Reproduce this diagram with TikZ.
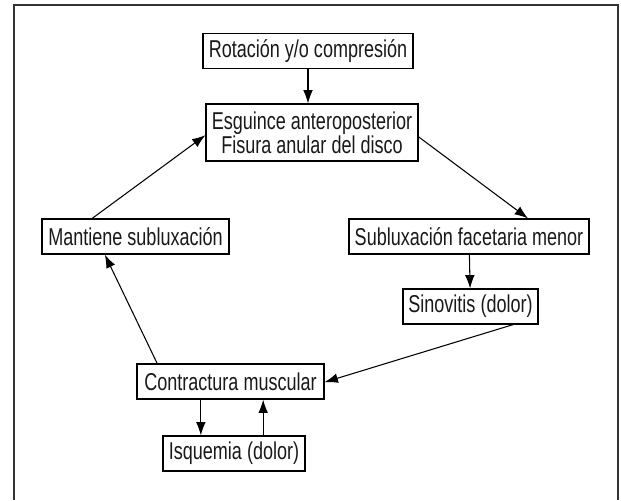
\documentclass[tikz,border=0pt]{standalone}
\usepackage{fontspec}
\setmainfont{Liberation Sans}[FakeStretch=0.74]
\usepackage{tikz}
\usetikzlibrary{calc}
\usetikzlibrary{arrows.meta}
\tikzset{>={Latex[length=4mm,width=2.9mm]}}
\tikzstyle{box} = [draw = black, line width = 1pt, inner sep = 0, minimum height = 1.05cm, align = center, text = black!90, font = \fontsize{20.8}{18.5}\selectfont]
\tikzstyle{link} = [->, draw = black, line width = 0.9pt]

\begin{document}
\begin{tikzpicture}
\useasboundingbox (0, 0) rectangle (18.63, -15);
% frame
\draw [line width = 1.2pt, draw = black!80] (0.42, -15) -- (0.42, -0.15) -- (18.54, -0.15) -- (18.54, -15);

\node [box, minimum width = 6.3cm]  (rot) at (9.24, -1.53) {Rotación y/o compresión};
\node [box, minimum width = 6.36cm, minimum height = 1.71cm] (esg) at (9.36, -3.975) {Esguince anteroposterior\\Fisura anular del disco};
\node [box, minimum width = 5.61cm] (mant) at (4.065, -7.095) {Mantiene subluxación};
\node [box, minimum width = 7.2cm]  (subl) at (14.07, -7.095) {Subluxación facetaria menor};
\node [box, minimum width = 4.05cm] (sino) at (14.115, -9.195) {Sinovitis (dolor)};
\node [box, minimum width = 5.61cm] (contr) at (6.915, -11.445) {Contractura muscular};
\node [box, minimum width = 4.26cm] (isq) at (7.02, -13.605) {Isquemia (dolor)};

\draw [link] (rot.south) to (rot.south |- esg.north);
\draw [link] ([yshift = -0.13cm]esg.east) to ([xshift = 1.77cm]subl.north);
\draw [link] (subl) to (sino);
\draw [link] ([xshift = 1.28cm]sino.south) to ([yshift = -0.02cm]contr.east);
\draw [link] ([xshift = -2.2cm]contr.north) to ([xshift = -0.92cm]mant.south);
\draw [link] ([xshift = -1.3cm]mant.north) to ([yshift = -0.08cm]esg.west);
%\draw [link] (contr) to (isq);
\draw [link] ([xshift = -0.89cm]contr.south) to ([xshift = -0.89cm]contr.south |- isq.north);
\draw [link] ([xshift = 0.98cm]contr.south |- isq.north) to ([xshift = 0.98cm]contr.south);
\end{tikzpicture}
\end{document}
